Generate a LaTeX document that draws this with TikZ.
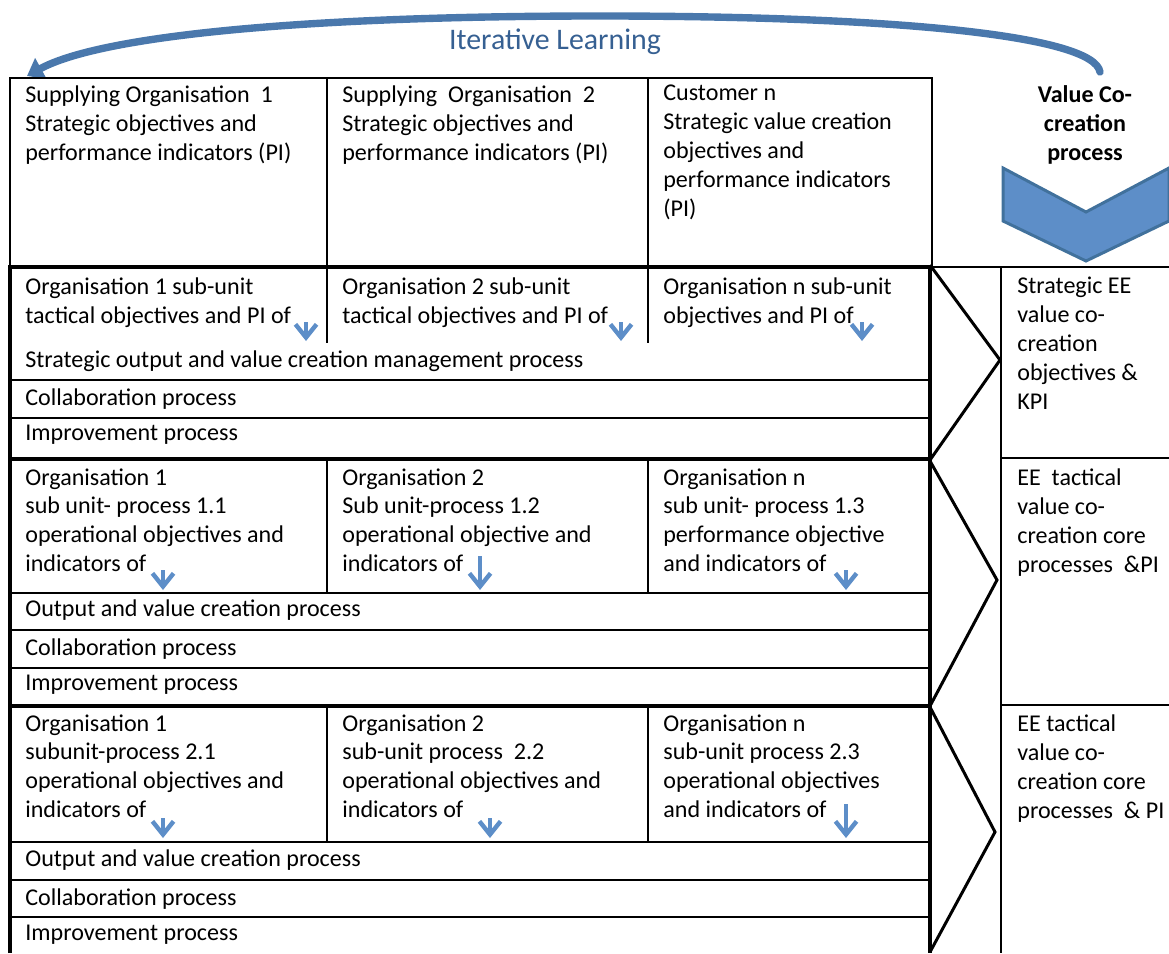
\documentclass[tikz,border=0pt]{standalone}
\usepackage{fontspec}
\setmainfont{Carlito}
\usepackage{xcolor}
\usepackage{tikz}
\usetikzlibrary{arrows.meta}
\definecolor{loopblue}{RGB}{74,120,172}
\definecolor{chevblue}{RGB}{93,142,200}
\definecolor{chevedge}{RGB}{65,113,156}
\definecolor{labelblue}{RGB}{54,96,146}
\tikzset{
    celltext/.style={anchor=north west, inner sep=0pt, align=left, font=\fontsize{13.7}{16.5}\selectfont},
    headtext/.style={anchor=north, inner sep=0pt, align=center, font=\fontsize{13.7}{16.5}\selectfont\bfseries},
    gridline/.style={line width=0.75pt},
    rowline/.style={line width=1.1pt},
    frameline/.style={line width=2.2pt},
    chevline/.style={line width=1.7pt, line join=miter},
    downarrow/.style={chevblue, line width=2.5pt, -{Straight Barb[length=7.5pt,width=12pt]}}
}

\begin{document}
\begin{tikzpicture}[x=0.02cm, y=-0.02cm]
    \useasboundingbox (0,0) rectangle (1169,953);

    % Iterative learning loop
    \draw[loopblue, line width=4.2pt, line cap=round, -{Triangle[length=9pt,width=13pt]}]
        (1100,72) .. controls (1094,36) and (900,16) .. (600,16)
        .. controls (300,16) and (100,36) .. (27,76);
    \node (loop) [labelblue, font=\fontsize{17}{20}\selectfont] at (555,42) {Iterative Learning};

    % Value co-creation chevron
    \node (vcp) [headtext] at (1085,85) {Value Co-\\creation\\process};
    \filldraw[fill=chevblue, draw=chevedge, line width=1.7pt]
        (1003,168) -- (1086,212) -- (1169,168) -- (1169,221) -- (1086,261) -- (1003,221) -- cycle;

    % Strategic level
    \draw[gridline] (10,78) rectangle (932,266);
    \draw[gridline] (327,78) -- (327,266);
    \draw[gridline] (648,78) -- (648,266);
    \node (so1) [celltext] at (25,85) {Supplying Organisation~ 1\\Strategic objectives and\\performance indicators (PI)};
    \node (so2) [celltext] at (342,85) {Supplying~ Organisation~ 2\\Strategic objectives and\\performance indicators (PI)};
    \node (cust) [celltext] at (663,85) {Customer n\\Strategic value creation\\objectives and\\performance indicators\\(PI)};

    % Tactical sub-units
    \draw[gridline] (327,267) -- (327,343);
    \draw[gridline] (648,267) -- (648,343);
    \draw[rowline] (10,380) -- (930,380);
    \draw[rowline] (10,418) -- (930,418);
    \node (tac1) [celltext] at (25,277) {Organisation 1 sub-unit\\tactical objectives and PI of};
    \node (tac2) [celltext] at (342,277) {Organisation 2 sub-unit\\tactical objectives and PI of};
    \node (tacn) [celltext] at (663,277) {Organisation n sub-unit\\objectives and PI of};
    \node (stratout) [celltext] at (25,350) {Strategic output and value creation management process};
    \node (collab1) [celltext] at (25,388) {Collaboration process};
    \node (improve1) [celltext] at (25,425) {Improvement process};
    \draw[downarrow] (306,322) -- (306,341);
    \draw[downarrow] (621,322) -- (621,341);
    \draw[downarrow] (862,322) -- (862,341);

    % Operational processes 1.x
    \draw[gridline] (327,459) -- (327,593);
    \draw[gridline] (648,459) -- (648,593);
    \draw[rowline] (10,593) -- (930,593);
    \draw[rowline] (10,630) -- (930,630);
    \draw[rowline] (10,668) -- (930,668);
    \node (op11) [celltext] at (25,468) {Organisation 1\\sub unit- process 1.1\\operational objectives and\\indicators of};
    \node (op12) [celltext] at (342,468) {Organisation 2\\Sub unit-process 1.2\\operational objective and\\indicators of};
    \node (op13) [celltext] at (663,468) {Organisation n\\sub unit- process 1.3\\performance objective\\and indicators of};
    \node (output1) [celltext] at (25,599) {Output and value creation process};
    \node (collab2) [celltext] at (25,638) {Collaboration process};
    \node (improve2) [celltext] at (25,675) {Improvement process};
    \draw[downarrow] (163,570) -- (163,590);
    \draw[downarrow] (480,556) -- (480,590);
    \draw[downarrow] (846,570) -- (846,590);

    % Operational processes 2.x
    \draw[gridline] (327,706) -- (327,842);
    \draw[gridline] (648,706) -- (648,842);
    \draw[rowline] (10,842) -- (930,842);
    \draw[rowline] (10,880) -- (930,880);
    \draw[rowline] (10,917) -- (930,917);
    \node (op21) [celltext] at (25,714) {Organisation 1\\subunit-process 2.1\\operational objectives and\\indicators of};
    \node (op22) [celltext] at (342,714) {Organisation 2\\sub-unit process~ 2.2\\operational objectives and\\indicators of};
    \node (op23) [celltext] at (663,714) {Organisation n\\sub-unit process 2.3\\operational objectives\\and indicators of};
    \node (output2) [celltext] at (25,849) {Output and value creation process};
    \node (collab3) [celltext] at (25,888) {Collaboration process};
    \node (improve3) [celltext] at (25,925) {Improvement process};
    \draw[downarrow] (163,818) -- (163,838);
    \draw[downarrow] (490,818) -- (490,838);
    \draw[downarrow] (846,804) -- (846,838);

    % Heavy frames of the three levels
    \draw[frameline] (10,953) -- (10,267) -- (930,267) -- (930,953);
    \draw[frameline] (10,459) -- (930,459);
    \draw[frameline] (10,706) -- (930,706);

    % Chevrons to the value co-creation column
    \draw[chevline] (930,265) -- (1000,360) -- (930,460);
    \draw[chevline] (930,461) -- (997,580) -- (930,706);
    \draw[chevline] (930,707) -- (995,832) -- (930,952);

    % Value co-creation column
    \draw[gridline] (930,267) -- (1169,267);
    \draw[gridline] (1001,267) -- (1001,953);
    \draw[gridline] (1001,458) -- (1169,458);
    \draw[gridline] (1001,705) -- (1169,705);
    \node (keestrat) [celltext] at (1017,277) {Strategic EE\\value co-\\creation\\objectives \&\\KPI};
    \node (eetac1) [celltext] at (1017,468) {EE~ tactical\\value co-\\creation core\\processes~ \&PI};
    \node (eetac2) [celltext] at (1017,714) {EE tactical\\value co-\\creation core\\processes~ \& PI};
\end{tikzpicture}
\end{document}
